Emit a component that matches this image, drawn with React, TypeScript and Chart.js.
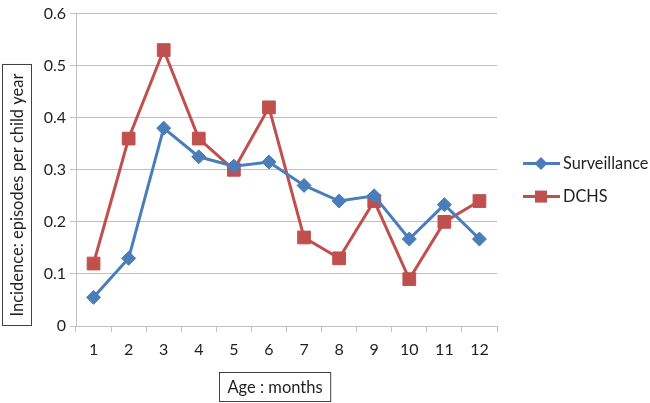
import { useEffect, useRef } from "react";
import { Chart, registerables } from "chart.js";

Chart.register(...registerables);

const months = ["1", "2", "3", "4", "5", "6", "7", "8", "9", "10", "11", "12"];
const surveillance = [0.055, 0.13, 0.38, 0.325, 0.307, 0.315, 0.27, 0.24, 0.25, 0.167, 0.233, 0.167];
const dchs = [0.12, 0.36, 0.53, 0.36, 0.30, 0.42, 0.17, 0.13, 0.24, 0.09, 0.20, 0.24];
const seriesNames = ["Surveillance", "DCHS"];
const yAxisTitle = "Incidence: episodes per child year";
const xAxisTitle = "Age : months";
const yMin = 0;
const yMax = 0.6;
const yStep = 0.1;

const FONT = "Lato, 'Open Sans', sans-serif";
const BLUE = "#4a7ebb";
const RED = "#c0504d";
const GRID = "#c0c0c0";
const TEXT = "#1f1f1f";

const overlayPlugin = {
  id: "overlay",
  afterDraw(chart: any) {
    const ctx = chart.ctx;
    const area = chart.chartArea;
    ctx.save();
    ctx.font = `16.3px ${FONT}`;
    ctx.fillStyle = TEXT;
    ctx.textBaseline = "middle";

    // Legend
    const legendX = area.right + 26;
    const legendY0 = area.top + 150;
    chart.data.datasets.forEach((ds: any, i: number) => {
      const y = legendY0 + i * 33;
      ctx.strokeStyle = ds.borderColor;
      ctx.lineWidth = 3;
      ctx.beginPath();
      ctx.moveTo(legendX, y);
      ctx.lineTo(legendX + 37, y);
      ctx.stroke();
      ctx.fillStyle = ds.pointBackgroundColor;
      ctx.beginPath();
      const cx = legendX + 18;
      if (ds.pointStyle === "rect") {
        const s = 6;
        ctx.rect(cx - s, y - s, 2 * s, 2 * s);
      } else {
        const r = 6.5;
        ctx.moveTo(cx - r, y);
        ctx.lineTo(cx, y - r);
        ctx.lineTo(cx + r, y);
        ctx.lineTo(cx, y + r);
        ctx.closePath();
      }
      ctx.fill();
      ctx.fillStyle = TEXT;
      ctx.textAlign = "left";
      ctx.fillText(ds.label, legendX + 40, y);
    });

    // Y axis title (boxed, rotated)
    ctx.font = `16.5px ${FONT}`;
    const yw = ctx.measureText(yAxisTitle).width;
    const boxH = yw + 18;
    const boxW = 29;
    const boxX = 2.5;
    const boxBottom = area.bottom - 0.5;
    const boxTop = boxBottom - boxH;
    ctx.fillStyle = "#ffffff";
    ctx.fillRect(boxX, boxTop, boxW, boxH);
    ctx.strokeStyle = "#404040";
    ctx.lineWidth = 1;
    ctx.strokeRect(boxX, boxTop, boxW, boxH);
    ctx.save();
    ctx.translate(boxX + boxW / 2 + 1, boxTop + boxH / 2);
    ctx.rotate(-Math.PI / 2);
    ctx.fillStyle = TEXT;
    ctx.textAlign = "center";
    ctx.fillText(yAxisTitle, 0, 0);
    ctx.restore();

    // X axis title (boxed)
    ctx.font = `16.5px ${FONT}`;
    const xw = ctx.measureText(xAxisTitle).width;
    const xBoxW = xw + 16;
    const xBoxH = 29;
    const xCenter = area.left + 199;
    const xBoxX = Math.round(xCenter - xBoxW / 2) + 0.5;
    const xBoxY = 372.5;
    ctx.fillStyle = "#ffffff";
    ctx.fillRect(xBoxX, xBoxY, xBoxW, xBoxH);
    ctx.strokeStyle = "#404040";
    ctx.strokeRect(xBoxX, xBoxY, xBoxW, xBoxH);
    ctx.fillStyle = TEXT;
    ctx.textAlign = "center";
    ctx.fillText(xAxisTitle, xCenter, xBoxY + xBoxH / 2 + 1);

    ctx.restore();
  },
};

export default function App() {
  const ref = useRef<HTMLCanvasElement | null>(null);

  useEffect(() => {
    if (!ref.current) return;
    const chart = new Chart(ref.current, {
      type: "line",
      data: {
        labels: months,
        datasets: [
          {
            label: seriesNames[0],
            data: surveillance,
            borderColor: BLUE,
            backgroundColor: BLUE,
            pointBackgroundColor: BLUE,
            pointBorderColor: BLUE,
            pointStyle: "rectRot",
            pointRadius: 7,
            pointBorderWidth: 1,
            borderWidth: 3,
            tension: 0,
          },
          {
            label: seriesNames[1],
            data: dchs,
            borderColor: RED,
            backgroundColor: RED,
            pointBackgroundColor: RED,
            pointBorderColor: RED,
            pointStyle: "rect",
            pointRadius: 9,
            pointBorderWidth: 1,
            borderWidth: 3,
            tension: 0,
          },
        ],
      },
      options: {
        responsive: false,
        animation: false,
        layout: { padding: { top: 8, right: 153, left: 0, bottom: 0 } },
        plugins: {
          legend: { display: false },
          tooltip: { enabled: false },
        },
        scales: {
          x: {
            type: "category",
            offset: true,
            grid: {
              offset: true,
              drawOnChartArea: false,
              drawTicks: true,
              tickLength: 6,
              color: GRID,
            },
            border: { color: GRID, width: 1 },
            ticks: {
              color: TEXT,
              font: { family: FONT, size: 16 },
              padding: 8,
              maxRotation: 0,
            },
            afterFit: (scale: any) => {
              scale.height = 77;
            },
          },
          y: {
            min: yMin,
            max: yMax,
            grid: { color: GRID, tickLength: 6, lineWidth: 1 },
            border: { color: GRID, width: 1 },
            ticks: {
              stepSize: yStep,
              color: TEXT,
              font: { family: FONT, size: 16 },
              padding: 4,
              callback: (v: any) => String(Number(Number(v).toFixed(1))),
            },
            afterFit: (scale: any) => {
              scale.width = 76;
            },
          },
        },
      },
      plugins: [overlayPlugin],
    });
    return () => chart.destroy();
  }, []);

  return (
    <div style={{ position: "absolute", left: 0, top: 0, width: 650, height: 403, background: "#fff" }}>
      <canvas ref={ref} width={650} height={403} style={{ display: "block" }} />
    </div>
  );
}
